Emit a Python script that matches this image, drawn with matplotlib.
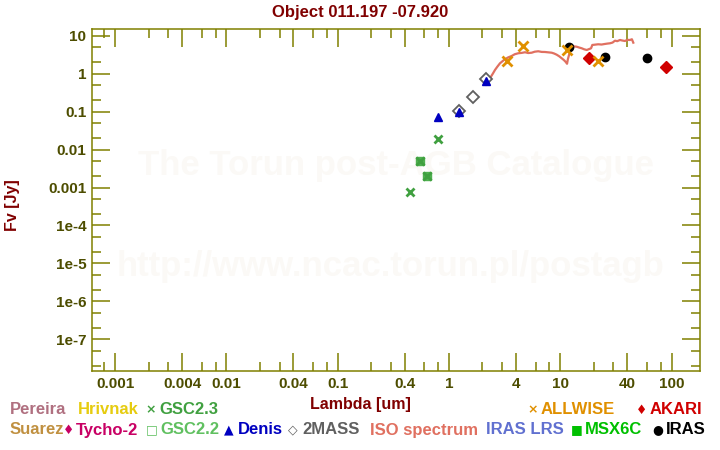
import numpy as np
import matplotlib.pyplot as plt

plt.rcParams['font.family'] = ['Liberation Sans', 'DejaVu Sans']
plt.rcParams['font.weight'] = 'bold'

# photometry (wavelength in um, flux in Jy)
gsc23_wl = [0.45, 0.55, 0.64, 0.80]
gsc23_fl = [7.5e-4, 0.0049, 0.0020, 0.019]
gsc22_wl = [0.55, 0.64]
gsc22_fl = [0.0049, 0.0020]
denis_wl = [0.79, 1.24, 2.15]
denis_fl = [0.072, 0.097, 0.66]
tmass_wl = [1.24, 1.65, 2.16]
tmass_fl = [0.107, 0.24, 0.72]
allwise_wl = [3.35, 4.6, 11.5, 22.0]
allwise_fl = [2.15, 5.35, 4.27, 2.24]
iras_wl = [12.0, 25.0, 60.0]
iras_fl = [5.0, 2.74, 2.58]
akari_wl = [18.0, 90.0]
akari_fl = [2.57, 1.49]

# ISO spectrum
iso_wl = [2.38, 2.48, 2.59, 2.72, 2.87, 3.02, 3.18, 3.40, 3.66, 3.90, 4.19, 4.50,
          4.82, 5.15, 5.53, 5.90, 6.34, 6.80, 7.29, 7.80, 8.37, 8.80, 9.28, 9.80,
          10.3, 10.8, 11.2, 11.5, 11.7, 12.0, 12.2, 12.5, 12.8, 13.4, 14.0, 14.8,
          15.6, 16.4, 17.3, 18.1, 18.9, 19.4, 20.5, 21.9, 23.5, 25.2, 26.5, 28.0,
          29.5, 31.0, 32.5, 34.4, 36.0, 38.1, 40.0, 42.3, 44.0, 45.3]
iso_fl = [0.84, 1.02, 1.27, 1.55, 1.90, 2.15, 2.43, 2.72, 2.97, 3.30, 3.50, 3.58,
          3.72, 3.55, 3.62, 3.85, 3.95, 3.80, 3.78, 3.70, 3.62, 3.45, 3.21, 2.90,
          2.58, 2.30, 2.06, 1.85, 2.43, 3.20, 4.09, 4.90, 5.44, 5.30, 5.22, 4.95,
          4.73, 4.45, 4.27, 4.50, 4.73, 5.79, 5.90, 6.04, 5.95, 6.16, 6.30, 6.42,
          6.70, 7.52, 7.30, 7.84, 7.60, 7.38, 7.90, 7.84, 8.20, 6.66]

xticks = [0.001, 0.004, 0.01, 0.04, 0.1, 0.4, 1, 4, 10, 40, 100]
xtick_labels = ['0.001', '0.004', '0.01', '0.04', '0.1', '0.4', '1', '4', '10', '40', '100']
yticks = [1e-7, 1e-6, 1e-5, 1e-4, 0.001, 0.01, 0.1, 1, 10]
ytick_labels = ['1e-7', '1e-6', '1e-5', '1e-4', '0.001', '0.01', '0.1', '1', '10']

olive = '#808000'
label_col = '#4d4d00'
dark_red = '#800000'

fig = plt.figure(figsize=(7.2, 4.5), dpi=100)
ax = fig.add_axes([0.1278, 0.1756, 0.8444, 0.76])
ax.set_xscale('log')
ax.set_yscale('log')
ax.set_xlim(6.2e-4, 180)
ax.set_ylim(1.45e-8, 15.3)

# watermark
ax.text(0.5, 0.60, 'The Torun post-AGB Catalogue', transform=ax.transAxes,
        ha='center', va='center', fontsize=25, color='#fbf9f6', zorder=0)
ax.text(0.04, 0.305, 'http://www.ncac.torun.pl/postagb', transform=ax.transAxes,
        ha='left', va='center', fontsize=25, color='#fbf9f6', zorder=0)

ax.plot(iso_wl, iso_fl, color='#e07060', lw=1.6, zorder=2)
ax.plot(gsc22_wl, gsc22_fl, 's', color='#50b050', ms=6, zorder=3)
ax.plot(gsc23_wl, gsc23_fl, 'x', color='#40a040', ms=6, mew=2, zorder=4)
ax.plot(tmass_wl, tmass_fl, 'D', mfc='none', mec='#606060', ms=6, mew=1.3, zorder=3)
ax.plot(denis_wl, denis_fl, '^', color='#0000c0', ms=6, zorder=4)
ax.plot(allwise_wl, allwise_fl, 'x', color='#e09000', ms=7, mew=2, zorder=4)
ax.plot(iras_wl, iras_fl, 'o', color='black', ms=6, zorder=3)
ax.plot(akari_wl, akari_fl, 'D', color='#d00000', ms=6, zorder=3)

# ticks: long at 1 and 4, short at 2, 3, 6, 8 of each decade
xminor = [m * 10.0 ** e for e in range(-4, 3) for m in (2, 3, 6, 8)]
xminor = [v for v in xminor if 6.2e-4 < v < 180]
ax.set_xticks(xticks)
ax.set_xticklabels(xtick_labels)
ax.set_xticks(xminor, minor=True)
ax.set_xticklabels([], minor=True)
yminor = [m * 10.0 ** e for e in range(-8, 2) for m in (2, 5)]
yminor = [v for v in yminor if 1.45e-8 < v < 15.3]
ax.set_yticks(yticks)
ax.set_yticklabels(ytick_labels)
ax.set_yticks(yminor, minor=True)
ax.set_yticklabels([], minor=True)

ax.tick_params(which='both', direction='in', top=True, right=True, color=olive,
               width=1.1, labelcolor=label_col, labelsize=11)
ax.tick_params(which='major', length=13, pad=4)
ax.tick_params(which='minor', length=6.5)
for s in ax.spines.values():
    s.set_color(olive)
    s.set_linewidth(1.1)

fig.text(0.5, 0.973, 'Object 011.197 -07.920', ha='center', va='center',
         fontsize=12, color=dark_red)
fig.text(0.5, 0.102, 'Lambda [um]', ha='center', va='center', fontsize=11.5, color=dark_red)
fig.text(0.017, 0.545, 'Fv [Jy]', ha='center', va='center', rotation=90,
         fontsize=11.5, color=dark_red)

# legend entries built as text: (x pixel, y pixel, symbol, label, colour)
legend_items = [
    (10, 410, '', 'Pereira', '#b07080'),
    (78, 410, '', 'Hrivnak', '#e6cc10'),
    (145, 410, '×', 'GSC2.3', '#40a040'),
    (527, 410, '×', 'ALLWISE', '#e09000'),
    (636, 410, '♦', 'AKARI', '#d00000'),
    (10, 430, '', 'Suarez', '#c09040'),
    (63, 430, '♦', 'Tycho-2', '#c80064'),
    (146, 430, '□', 'GSC2.2', '#60c060'),
    (224, 430, '▲', 'Denis', '#0000c0'),
    (288, 430, '◇', '2MASS', '#606060'),
    (370, 430, '', 'ISO spectrum', '#e07060'),
    (486, 430, '', 'IRAS LRS', '#6070d0'),
    (571, 430, '■', 'MSX6C', '#00c000'),
    (652, 430, '●', 'IRAS', 'black'),
]
for px, py, sym, lab, col in legend_items:
    fy = 1 - py / 450
    if sym:
        fig.text(px / 720, fy, sym, ha='left', va='center', fontsize=9,
                 color=col, family='DejaVu Sans')
        gap = 14 if lab != 'Tycho-2' else 13
        fig.text((px + gap) / 720, fy, lab, ha='left', va='center', fontsize=12, color=col)
    else:
        fig.text(px / 720, fy, lab, ha='left', va='center', fontsize=12, color=col)

fig.savefig('out.png', dpi=100)
